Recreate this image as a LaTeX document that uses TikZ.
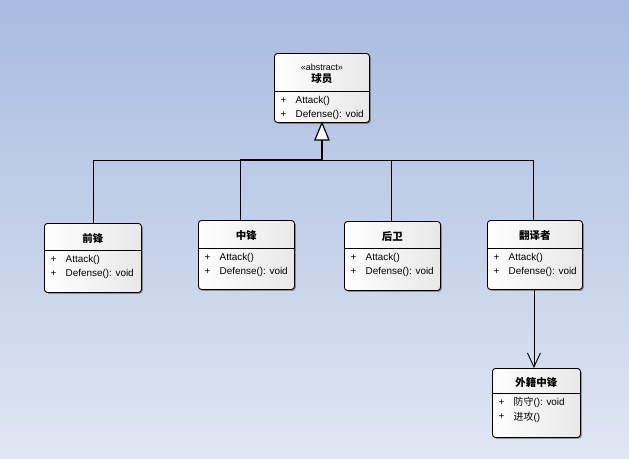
\documentclass[tikz,border=0pt]{standalone}
\usepackage{fontspec}
\setmainfont{Liberation Sans}
\newfontfamily\cjk{Noto Sans CJK SC}
\usetikzlibrary{arrows.meta,shadows}
\definecolor{bgtop}{HTML}{A8BBE0}
\definecolor{bgbot}{HTML}{E0E6F3}
\tikzset{
  cls/.style={draw=black, line width=0.9pt, rounded corners=3pt, left color=white, right color=black!9,
    inner sep=0pt, anchor=north west,
    drop shadow={shadow xshift=1.3pt, shadow yshift=-1.3pt, opacity=0.35, fill=black}},
  sepline/.style={draw=black, line width=0.8pt},
  ttl/.style={inner sep=0pt, align=center, font=\cjk\bfseries\fontsize{10.5}{12}\selectfont},
  mem/.style={inner sep=0pt, anchor=west, font=\fontsize{9.9}{11}\selectfont},
  gen/.style={draw=black, line width=0.9pt},
}
\newcommand{\umlbox}[9]{%
  \node[cls, minimum width=#4pt, minimum height=#5pt] (#1) at (#2,#3) {};
  \draw[sepline] ([yshift=-#6pt]#1.north west) -- ([yshift=-#6pt]#1.north east);
  \node[ttl] (#1-t) at ([yshift=-0.56*#6pt]#1.north) {#7};
  \node[mem] (#1-p1) at ([xshift=6.5pt,yshift=-#6pt-9.5pt]#1.north west) {+};
  \node[mem] (#1-m1) at ([xshift=21.5pt,yshift=-#6pt-9.5pt]#1.north west) {#8};
  \node[mem] (#1-p2) at ([xshift=6.5pt,yshift=-#6pt-24pt]#1.north west) {+};
  \node[mem] (#1-m2) at ([xshift=21.5pt,yshift=-#6pt-24pt]#1.north west) {#9};
}
\begin{document}
\begin{tikzpicture}[x=1pt,y=-1pt]
\useasboundingbox (0,0) rectangle (629,458);
\fill[top color=bgtop, bottom color=bgbot] (0,0) rectangle (629,458);

\umlbox{qy}{274}{53}{95}{69}{38}{{\rmfamily\mdseries\fontsize{9}{12}\selectfont «abstract»}\\球员}{Attack()}{Defense(): void}
\umlbox{qf}{44}{223}{97}{69}{27}{前锋}{Attack()}{Defense(): void}
\umlbox{zf}{198}{220}{96}{69}{28}{中锋}{Attack()}{Defense(): void}
\umlbox{hw}{344}{221}{96}{69}{27}{后卫}{Attack()}{Defense(): void}
\umlbox{fy}{487}{220}{95}{69}{28}{翻译者}{Attack()}{Defense(): void}
\umlbox{wj}{492}{368}{88}{69}{25}{外籍中锋}{{\cjk 防守}(): void}{{\cjk 进攻}()}

% generalization tree
\coordinate (tb) at ([yshift=-17pt]qy.south);
\coordinate (bus) at (0,160);
\draw[gen] (qf.north) -- (qf.north |- bus) -| (tb);
\draw[gen] ([xshift=-6pt]zf.north) -- ([xshift=-6pt]zf.north |- bus) -| (tb);
\draw[gen] ([xshift=-1pt]hw.north) -- ([xshift=-1pt]hw.north |- bus) -| (tb);
\draw[gen] ([xshift=-1.5pt]fy.north) -- ([xshift=-1.5pt]fy.north |- bus) -| (tb);
\draw[gen, line width=1.6pt] ([xshift=-6pt]zf.north |- bus) -- (tb |- bus) -- (tb);
\draw[gen, line width=1.2pt, fill=white, line join=miter] ([xshift=-7pt]tb) -- (qy.south) -- ([xshift=7pt]tb) -- cycle;

% association
\draw[line width=0.9pt, -{Straight Barb[length=14pt,width=13pt,line width=0.9pt]}]
  ([xshift=-1pt]fy.south) -- ([xshift=-1pt]fy.south |- wj.north);
\end{tikzpicture}
\end{document}
